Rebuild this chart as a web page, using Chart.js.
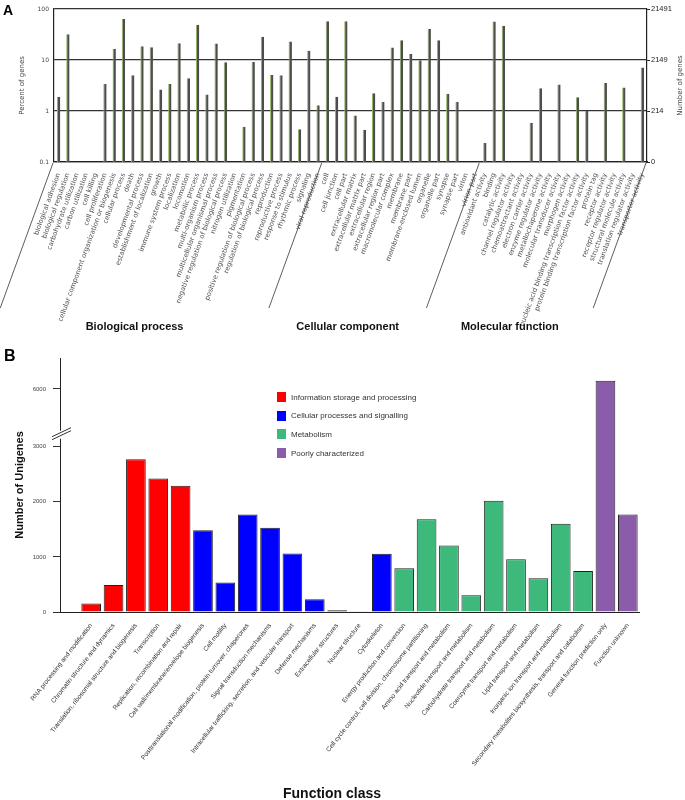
<!DOCTYPE html>
<html>
<head>
<meta charset="utf-8">
<title>GO and COG classification</title>
<script src="https://cdn.jsdelivr.net/npm/chart.js@4.4.1/dist/chart.umd.min.js"></script>
<style>
    html, body { margin: 0; padding: 0; background: #fff; }
    #page { position: relative; width: 685px; height: 800px; overflow: hidden; font-family: "Liberation Sans", Arial, sans-serif; }
    canvas { position: absolute; left: 0; }
    #chartA { top: 0; }
    #chartB { top: 340px; }
    .panel-tag { position: absolute; font-weight: bold; color: #000; line-height: 1; }
    #tagA { left: 3px; top: 3px; font-size: 14px; }
    #tagB { left: 4px; top: 348px; font-size: 16px; }
    #xTitleB { position: absolute; top: 785px; left: 232px; width: 200px; text-align: center; font-weight: bold; font-size: 14px; color: #111; }
    #legendB { position: absolute; left: 277px; top: 388px; font-size: 8px; color: #333; }
    #legendB .item { height: 18.6px; display: flex; align-items: center; }
    #legendB .swatch { width: 9px; height: 10px; margin-right: 5px; }
</style>
</head>
<body>
<div id="page">
    <canvas id="chartA" width="685" height="340"></canvas>
    <canvas id="chartB" width="685" height="460"></canvas>
    <div class="panel-tag" id="tagA">A</div>
    <div class="panel-tag" id="tagB">B</div>
    <div id="legendB"></div>
    <div id="xTitleB">Function class</div>
</div>
<script>
// Panel A - GO classification

const goTerms = [
    'biological adhesion', 'biological regulation', 'carbohydrate utilization', 'carbon utilization',
    'cell killing', 'cell proliferation', 'cellular component organization or biogenesis', 'cellular process',
    'death', 'developmental process', 'establishment of localization', 'growth', 'immune system process',
    'localization', 'locomotion', 'metabolic process', 'multi-organism process',
    'multicellular organismal process', 'negative regulation of biological process', 'nitrogen utilization',
    'pigmentation', 'positive regulation of biological process', 'regulation of biological process',
    'reproduction', 'reproductive process', 'response to stimulus', 'rhythmic process', 'signaling',
    'viral reproduction',
    'cell', 'cell junction', 'cell part', 'extracellular matrix', 'extracellular matrix part',
    'extracellular region', 'extracellular region part', 'macromolecular complex', 'membrane',
    'membrane part', 'membrane-enclosed lumen', 'organelle', 'organelle part', 'synapse', 'synapse part',
    'virion', 'virion part',
    'antioxidant activity', 'binding', 'catalytic activity', 'channel regulator activity',
    'chemoattractant activity', 'electron carrier activity', 'enzyme regulator activity',
    'metallochaperone activity', 'molecular transducer activity', 'morphogen activity',
    'nucleic acid binding transcription factor activity', 'protein binding transcription factor activity',
    'protein tag', 'receptor activity', 'receptor regulator activity', 'structural molecule activity',
    'translation regulator activity', 'transporter activity'
];
const goGroupNames = ['Biological process', 'Cellular component', 'Molecular function'];
const goGroupSizes = [29, 17, 18];
const goPercent = [
    1.9, 32, null, null, null, 3.4, 16.7, 64, 5.0, 18.5, 17.7, 2.65, 3.4, 21.2, 4.4, 49, 2.1, 21, 9.0, null,
    0.49, 9.1, 28.6, 5.1, 5.0, 23, 0.44, 15.2, 1.29,
    57.6, 1.9, 57.6, 0.82, 0.43, 2.24, 1.52, 17.5, 24.5, 13.3, 9.9, 41, 24.5, 2.17, 1.52, null, null,
    0.235, 56.8, 46.8, null, null, 0.59, 2.8, null, 3.3, null, 1.85, 1.0, null, 3.56, null, 2.9, null, 7.1
];
const percentTicks = [0.1, 1, 10, 100];
const geneCountLabels = ['0', '214', '2149', '21491'];

// Panel B - COG classification

const cogClasses = [
    'RNA processing and modification', 'Chromatin structure and dynamics',
    'Translation, ribosomal structure and biogenesis', 'Transcription',
    'Replication, recombination and repair', 'Cell wall/membrane/envelope biogenesis', 'Cell motility',
    'Posttranslational modification, protein turnover, chaperones', 'Signal transduction mechanisms',
    'Intracellular trafficking, secretion, and vesicular transport', 'Defense mechanisms',
    'Extracellular structures', 'Nuclear structure', 'Cytoskeleton', 'Energy production and conversion',
    'Cell cycle control, cell division, chromosome partitioning', 'Amino acid transport and metabolism',
    'Nucleotide transport and metabolism', 'Carbohydrate transport and metabolism',
    'Coenzyme transport and metabolism', 'Lipid transport and metabolism',
    'Inorganic ion transport and metabolism',
    'Secondary metabolites biosynthesis, transport and catabolism', 'General function prediction only',
    'Function unknown'
];
const cogCounts = [
    153, 491, 2771, 2425, 2291, 1485, 534, 1771, 1527, 1061, 231, 31, 4, 1055, 795, 1685, 1207, 303,
    2018, 958, 613, 1600, 745, 6145, 1771
];
const cogGroupNames = [
    'Information storage and processing', 'Cellular processes and signalling', 'Metabolism',
    'Poorly characterized'
];
const cogGroupOfClass = [0, 0, 0, 0, 0, 1, 1, 1, 1, 1, 1, 1, 1, 1, 2, 2, 2, 2, 2, 2, 2, 2, 2, 3, 3];
const unigeneTicks = [0, 1000, 2000, 3000, 6000];

const cogColors = ['#ff0000', '#0000ff', '#3cb97b', '#8a5ca9'];

// y axis of panel B skips 3200..5150
const BREAK_LO = 3200;
const BREAK_HI = 5150;

function squash(v) {
    if (v <= BREAK_LO) return v;
    if (v >= BREAK_HI) return v - (BREAK_HI - BREAK_LO);
    return BREAK_LO;
}
function unsquash(s) {
    return s <= BREAK_LO ? s : s + (BREAK_HI - BREAK_LO);
}

class BrokenLinearScale extends Chart.LinearScale {
    getPixelForValue(value) {
        const lo = squash(this.min), hi = squash(this.max);
        return this.getPixelForDecimal((squash(value) - lo) / (hi - lo));
    }
    getValueForPixel(pixel) {
        const lo = squash(this.min), hi = squash(this.max);
        return unsquash(lo + this.getDecimalForPixel(pixel) * (hi - lo));
    }
}
BrokenLinearScale.id = 'brokenLinear';
Chart.register(BrokenLinearScale);

Chart.defaults.font.family = '"Liberation Sans", Arial, sans-serif';

// slanted group separators and group names under panel A
const goDecor = {
    id: 'goDecor',
    afterDraw(chart) {
        const { ctx, chartArea } = chart;
        const xs = chart.scales.x;
        const catW = xs.width / goTerms.length;
        const slant = 1 / Math.tan(70 * Math.PI / 180);
        const yTop = chartArea.bottom + 1;
        const yEnd = 308;

        const bounds = [chartArea.left - 1];
        let idx = 0;
        goGroupSizes.forEach(n => {
            idx += n;
            bounds.push(xs.getPixelForValue(idx - 1) + catW / 2 - 1);
        });

        ctx.save();
        ctx.strokeStyle = '#333';
        ctx.lineWidth = 0.8;
        const bottoms = bounds.map(x => {
            const xb = x - (yEnd - yTop) * slant;
            ctx.beginPath();
            ctx.moveTo(x, yTop);
            ctx.lineTo(xb, yEnd);
            ctx.stroke();
            return xb;
        });

        ctx.fillStyle = '#111';
        ctx.font = 'bold 11px "Liberation Sans", Arial, sans-serif';
        ctx.textAlign = 'center';
        ctx.textBaseline = 'middle';
        goGroupNames.forEach((name, i) => {
            ctx.fillText(name, (bottoms[i] + bottoms[i + 1]) / 2, 327);
        });

        // right-hand axis title reads bottom to top
        ctx.translate(680, (chartArea.top + chartArea.bottom) / 2);
        ctx.rotate(-Math.PI / 2);
        ctx.font = '7px "DejaVu Sans", sans-serif';
        ctx.fillStyle = '#444';
        ctx.fillText('Number of genes', 0, 0);
        ctx.restore();
    }
};

// break marks on the panel B y axis
const axisBreak = {
    id: 'axisBreak',
    afterDraw(chart) {
        const { ctx, chartArea } = chart;
        const ys = chart.scales.y;
        const ax = ys.right;
        const b = ys.getPixelForValue(BREAK_LO);
        const base = ys.getPixelForValue(0);

        ctx.save();
        ctx.strokeStyle = '#222';
        ctx.lineWidth = 1;
        ctx.beginPath();
        ctx.moveTo(ax, Math.round(base) + 0.5);
        ctx.lineTo(chartArea.left, Math.round(base) + 0.5);
        ctx.stroke();

        ctx.fillStyle = '#fff';
        ctx.fillRect(ax - 2, b - 5, 4, 8);
        ctx.strokeStyle = '#333';
        [0, 3].forEach(d => {
            ctx.beginPath();
            ctx.moveTo(ax - 8, b + 1 + d);
            ctx.lineTo(ax + 11, b - 8 + d);
            ctx.stroke();
        });
        ctx.restore();
    }
};

new Chart(document.getElementById('chartA'), {
    type: 'bar',
    data: {
        labels: goTerms,
        datasets: [{
            data: goPercent,
            backgroundColor: '#4d4d4d',
            borderColor: '#93b565',
            borderWidth: { left: 1, right: 0, top: 0, bottom: 0 },
            barPercentage: 0.36,
            categoryPercentage: 1
        }]
    },
    options: {
        responsive: false,
        animation: false,
        layout: { padding: { top: 9, left: 0, right: 0, bottom: 0 } },
        plugins: { legend: { display: false }, tooltip: { enabled: false } },
        scales: {
            x: {
                offset: true,
                grid: { display: false },
                border: { display: true, color: '#222', width: 1.2 },
                ticks: {
                    autoSkip: false,
                    minRotation: 70,
                    maxRotation: 70,
                    padding: 2,
                    color: '#555',
                    font: { family: '"DejaVu Sans", sans-serif', size: 6.8 }
                },
                afterFit: s => { s.height = 178; }
            },
            y: {
                type: 'logarithmic',
                position: 'left',
                min: 0.1,
                max: 100,
                afterBuildTicks: s => { s.ticks = percentTicks.map(v => ({ value: v })); },
                afterFit: s => { s.width = 54; },
                grid: { color: '#333', lineWidth: 1.2, drawTicks: false },
                border: { display: true, color: '#222', width: 1.2 },
                ticks: {
                    padding: 5,
                    color: '#444',
                    font: { family: '"DejaVu Sans", sans-serif', size: 6 },
                    callback: v => String(v)
                },
                title: {
                    display: true,
                    text: 'Percent of genes',
                    color: '#444',
                    font: { family: '"DejaVu Sans", sans-serif', size: 7 },
                    padding: { top: 18 }
                }
            },
            yRight: {
                type: 'logarithmic',
                position: 'right',
                min: 0.1,
                max: 100,
                afterBuildTicks: s => { s.ticks = percentTicks.map(v => ({ value: v })); },
                afterFit: s => { s.width = 38; },
                grid: { drawOnChartArea: false, drawTicks: true, tickLength: 3, color: '#222' },
                border: { display: true, color: '#222', width: 1.2 },
                ticks: {
                    padding: 1,
                    color: '#222',
                    font: { size: 7.5 },
                    callback: (v, i) => geneCountLabels[i]
                }
            }
        }
    },
    plugins: [goDecor]
});

new Chart(document.getElementById('chartB'), {
    type: 'bar',
    data: {
        labels: cogClasses,
        datasets: [{
            data: cogCounts,
            backgroundColor: cogGroupOfClass.map(g => cogColors[g]),
            borderColor: '#222',
            borderWidth: 1,
            barPercentage: 0.88,
            categoryPercentage: 1
        }]
    },
    options: {
        responsive: false,
        animation: false,
        layout: { padding: { top: 18, right: 46, left: 0, bottom: 0 } },
        plugins: { legend: { display: false }, tooltip: { enabled: false } },
        scales: {
            x: {
                offset: true,
                grid: { display: false },
                border: { display: true, color: '#222', width: 1 },
                ticks: {
                    autoSkip: false,
                    minRotation: 52,
                    maxRotation: 52,
                    padding: 2,
                    color: '#333',
                    font: { size: 6.5 }
                },
                afterFit: s => { s.height = 188; }
            },
            y: {
                type: 'brokenLinear',
                position: 'left',
                weight: 1,
                min: 0,
                max: 6560,
                afterBuildTicks: s => { s.ticks = unigeneTicks.map(v => ({ value: v })); },
                afterFit: s => { s.width = 60; },
                grid: { drawOnChartArea: false, drawTicks: true, tickLength: 7, color: '#333' },
                border: { display: true, color: '#222', width: 1 },
                ticks: {
                    padding: 7,
                    color: '#444',
                    font: { size: 6 },
                    callback: v => String(v)
                },
                title: {
                    display: true,
                    text: 'Number of Unigenes',
                    color: '#111',
                    font: { size: 11, weight: 'bold' },
                    padding: { top: 13 }
                }
            },
            // empty gap between the y axis and the first bar
            ySpacer: {
                type: 'linear',
                position: 'left',
                weight: 0,
                grid: { display: false },
                border: { display: false },
                ticks: { display: false },
                afterFit: s => { s.width = 20; }
            }
        }
    },
    plugins: [axisBreak]
});

// legend for panel B
const legendBox = document.getElementById('legendB');
cogGroupNames.forEach((name, i) => {
    const item = document.createElement('div');
    item.className = 'item';
    item.innerHTML = `<span class="swatch" style="background:${cogColors[i]}"></span><span>${name}</span>`;
    legendBox.appendChild(item);
});
</script>
</body>
</html>
